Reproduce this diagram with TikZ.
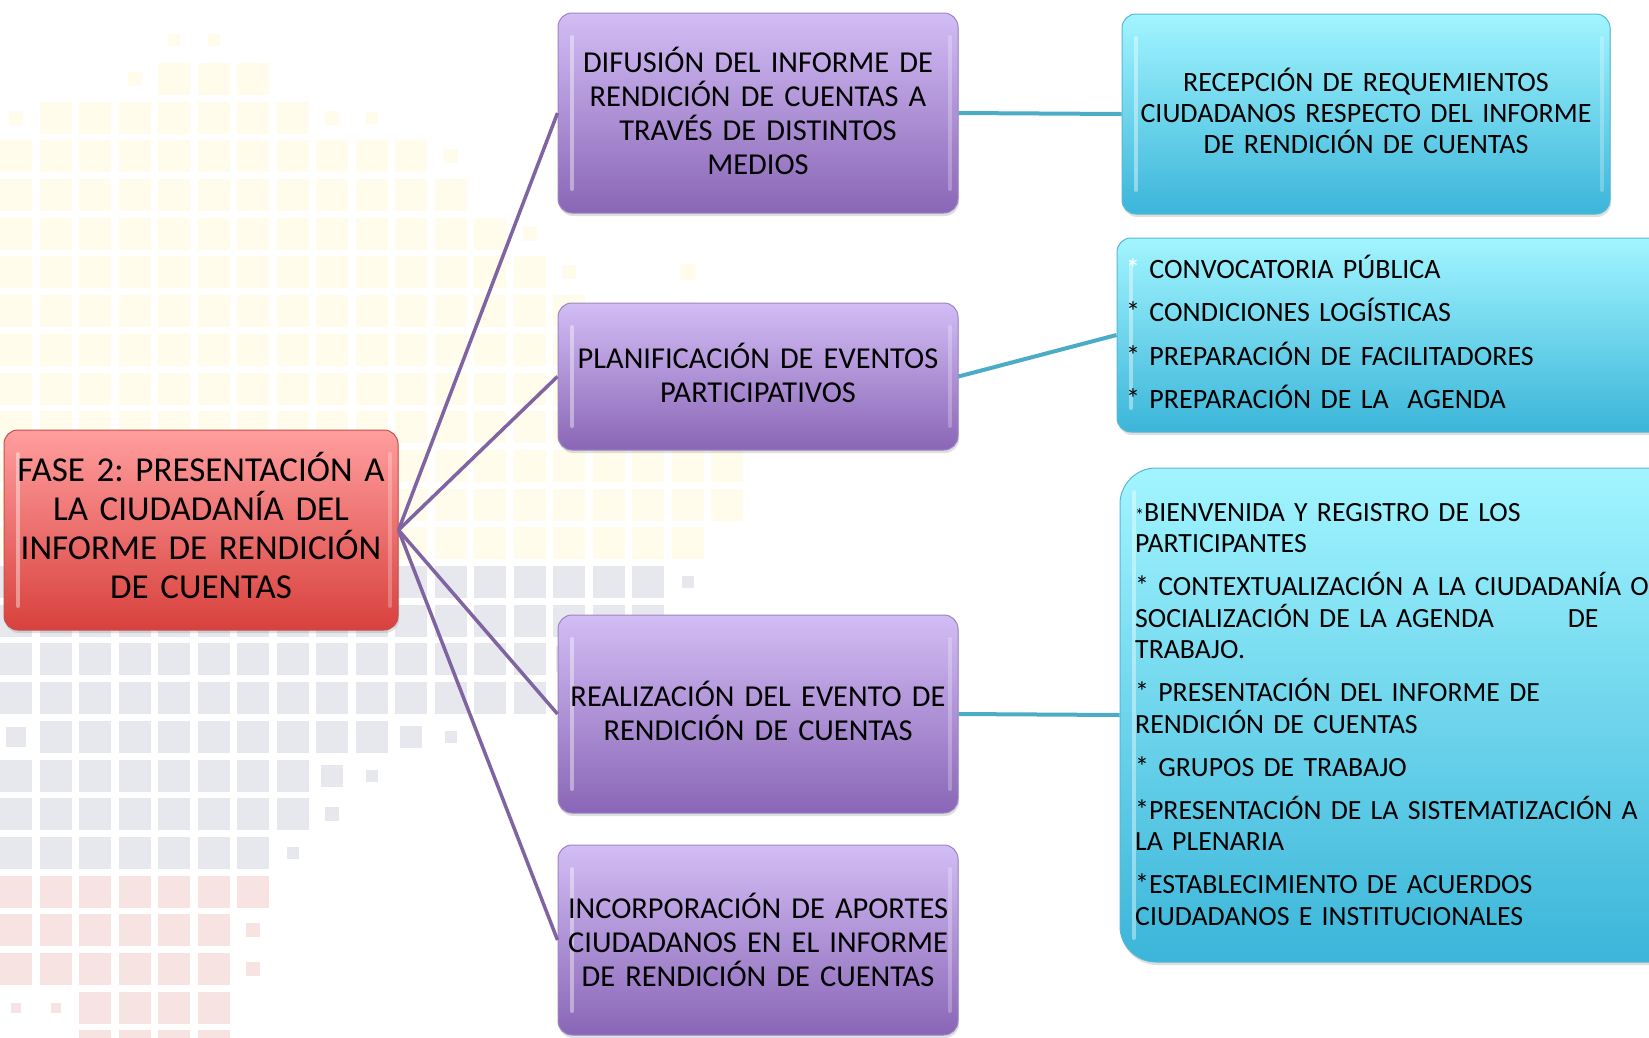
\documentclass[tikz,border=0pt]{standalone}
\usepackage{fontspec}
\setmainfont{Carlito}[WordSpace=0.85]
\usetikzlibrary{shadows}
\definecolor{redtop}{HTML}{FF9E9E}
\definecolor{redbot}{HTML}{D8413D}
\definecolor{redline}{HTML}{C4504D}
\definecolor{purtop}{HTML}{D3BDF5}
\definecolor{purbot}{HTML}{8966B6}
\definecolor{purline}{HTML}{9C86C4}
\definecolor{cyantop}{HTML}{A2F5FF}
\definecolor{cyanbot}{HTML}{3BB5D9}
\definecolor{cyanline}{HTML}{56B9D3}
\definecolor{purconn}{HTML}{8064A2}
\definecolor{cyanconn}{HTML}{4BACC6}
\definecolor{ysq}{HTML}{FFFCEC}
\definecolor{gsq}{HTML}{E6E8EE}
\definecolor{psq}{HTML}{F8E3E3}
\tikzset{
  hilite/.style={path picture={
    \draw[white, opacity=0.4, line width=4pt, line cap=round]
      ([xshift=14pt,yshift=-24pt]path picture bounding box.north west) --
      ([xshift=14pt,yshift=24pt]path picture bounding box.south west);
    \draw[white, opacity=0.25, line width=4pt, line cap=round]
      ([xshift=-8pt,yshift=-24pt]path picture bounding box.north east) --
      ([xshift=-8pt,yshift=24pt]path picture bounding box.south east);}},
  box/.style={rectangle, rounded corners=14pt, inner sep=0pt, line width=1pt,
    align=center, text=black, hilite,
    drop shadow={opacity=0.25, shadow xshift=1pt, shadow yshift=-3pt}},
  redbox/.style={box, top color=redtop, bottom color=redbot, draw=redline},
  purbox/.style={box, top color=purtop, bottom color=purbot, draw=purline,
    minimum width=400pt, text width=396pt, font=\fontsize{30.4}{34}\selectfont},
  cyanbox/.style={box, top color=cyantop, bottom color=cyanbot, draw=cyanline},
  purlink/.style={draw=purconn, line width=3.5pt},
  cyanlink/.style={draw=cyanconn, line width=4pt},
  listtext/.style={inner sep=0pt, align=left, text=black, anchor=base west},
  ysquare/.style={fill=ysq},
  gsquare/.style={fill=gsq},
  psquare/.style={fill=psq}
}
\newcommand{\lift}[1]{\par\vspace*{#1}}
\begin{document}
\frenchspacing
\begin{tikzpicture}[x=1pt,y=-1pt]
\useasboundingbox (0,0) rectangle (1649,1037);
\clip (0,0) rectangle (1649,1037);
\fill[white] (0,0) rectangle (1649,1037);
% background squares
\foreach \r/\a/\b in {-13/4/6, -12/1/7, -11/0/10, -10/0/11, -9/0/12, -8/0/13, -7/0/14, -6/0/16, -5/0/18, -4/0/18, -3/0/18, -2/0/18, -1/0/17}{
  \foreach \c in {\a,...,\b}{\path[ysquare] ({\c*39.5},{566+(\r)*38.7}) rectangle ++(32,32);}}
\foreach \r/\c/\s in {-14/4/12, -14/5/12, -13/3/14, -12/0/14, -12/8/14, -12/9/12, -11/11/14, -9/13/14, -8/14/14, -8/17/16, -7/17/20}{
  \path[ysquare] ({\c*39.5+16-\s/2},{566+(\r)*38.7+16-\s/2}) rectangle ++(\s,\s);}
\foreach \r/\a/\b in {0/0/16, 1/0/16, 2/0/13, 3/0/13, 4/1/9, 5/0/7, 6/0/7, 7/0/6}{
  \foreach \c in {\a,...,\b}{\path[gsquare] ({\c*39.5},{566+(\r)*38.7}) rectangle ++(32,32);}}
\foreach \r/\c/\s in {0/17/12, 2/14/26, 4/0/20, 4/10/22, 4/11/12, 5/8/22, 5/9/12, 6/8/14, 7/7/12}{
  \path[gsquare] ({\c*39.5+16-\s/2},{566+(\r)*38.7+16-\s/2}) rectangle ++(\s,\s);}
\foreach \r/\a/\b in {8/0/6, 9/0/5, 10/0/5, 11/2/5, 12/2/5}{
  \foreach \c in {\a,...,\b}{\path[psquare] ({\c*39.5},{566+(\r)*38.7}) rectangle ++(32,32);}}
\foreach \r/\c/\s in {9/6/14, 10/6/14, 11/0/10, 11/1/10}{
  \path[psquare] ({\c*39.5+16-\s/2},{566+(\r)*38.7+16-\s/2}) rectangle ++(\s,\s);}

% main nodes
\node[redbox, minimum width=394pt, minimum height=200pt, text width=390pt,
  font=\fontsize{35}{39}\selectfont] (fase) at (201,530)
  {FASE 2: PRESENTACIÓN A\\LA CIUDADANÍA DEL\\INFORME DE RENDICIÓN\\DE CUENTAS\lift{9.5pt}};
\node[purbox, minimum height=200pt] (dif) at (758,113)
  {DIFUSIÓN DEL INFORME DE\\RENDICIÓN DE CUENTAS A\\TRAVÉS DE DISTINTOS\\MEDIOS\lift{4pt}};
\node[purbox, minimum height=147pt] (plan) at (758,376.5)
  {PLANIFICACIÓN DE EVENTOS\\PARTICIPATIVOS\lift{7pt}};
\node[purbox, minimum height=198pt] (real) at (758,714)
  {REALIZACIÓN DEL EVENTO DE\\RENDICIÓN DE CUENTAS\lift{7pt}};
\node[purbox, minimum height=190pt] (inc) at (758,940)
  {INCORPORACIÓN DE APORTES\\CIUDADANOS EN EL INFORME\\DE RENDICIÓN DE CUENTAS};
\node[cyanbox, minimum width=488pt, minimum height=200pt, text width=480pt,
  font=\fontsize{28}{31}\selectfont] (rec) at (1366,114)
  {RECEPCIÓN DE REQUEMIENTOS\\CIUDADANOS RESPECTO DEL INFORME\\DE RENDICIÓN DE CUENTAS\lift{6pt}};
\node[cyanbox, minimum width=563pt, minimum height=194pt] (conv) at (1398.5,335) {};
\node[cyanbox, rounded corners=36pt, minimum width=570pt, minimum height=494pt] (bien) at (1405,715) {};

\node[listtext, text width=520pt, font=\fontsize{28}{43.5}\selectfont] (convtxt) at (1126,278)
  {{\color{white}*} CONVOCATORIA PÚBLICA\\{}* CONDICIONES LOGÍSTICAS\\{}* PREPARACIÓN DE FACILITADORES\\{}* PREPARACIÓN DE LA\ \ AGENDA};
\node[listtext, text width=540pt, font=\fontsize{27.8}{31.5}\selectfont] (bientxt) at (1135,521)
  {{\fontsize{18}{18}\selectfont*}BIENVENIDA Y REGISTRO DE LOS\\PARTICIPANTES\\[11.5pt]
   {}* CONTEXTUALIZACIÓN A LA CIUDADANÍA O\\SOCIALIZACIÓN DE LA AGENDA\hspace{74pt}DE\\TRABAJO.\\[11.5pt]
   {}* PRESENTACIÓN DEL INFORME DE\\RENDICIÓN DE CUENTAS\\[11.5pt]
   {}* GRUPOS DE TRABAJO\\[11.5pt]
   {}*PRESENTACIÓN DE LA SISTEMATIZACIÓN A\\LA PLENARIA\\[11.5pt]
   {}*ESTABLECIMIENTO DE ACUERDOS\\CIUDADANOS E INSTITUCIONALES};

% connectors
\draw[purlink] (fase.east) -- (dif.west);
\draw[purlink] (fase.east) -- (plan.west);
\draw[purlink] (fase.east) -- (real.west);
\draw[purlink] (fase.east) -- (inc.west);
\draw[cyanlink] (dif.east) -- (rec.west);
\draw[cyanlink] (plan.east) -- (conv.west);
\draw[cyanlink] (real.east) -- (bien.west);
\end{tikzpicture}
\end{document}
